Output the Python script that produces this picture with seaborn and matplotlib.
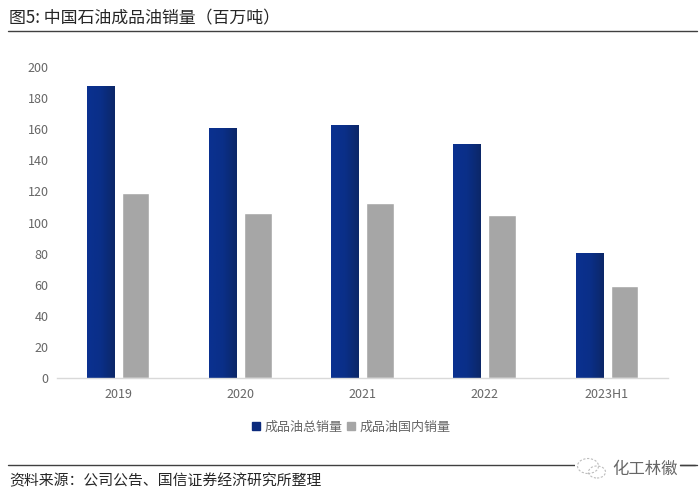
import matplotlib
matplotlib.use('Agg')
import matplotlib.pyplot as plt
from matplotlib.lines import Line2D
from matplotlib.patches import Ellipse
import numpy as np
import pandas as pd
import seaborn as sns

categories = ['2019', '2020', '2021', '2022', '2023H1']
total_sales = [187.5, 161, 163, 150.5, 80.5]
domestic_sales = [119, 106, 112.5, 105, 59]
y_ticks = [0, 20, 40, 60, 80, 100, 120, 140, 160, 180, 200]

NAME_TOTAL = '成品油总销量'
NAME_DOMESTIC = '成品油国内销量'
BLUE = '#0b2a7c'
GREY = '#a6a6a6'
TEXT = '#666666'

W, H = 700, 499


def make_df():
    df = pd.DataFrame({'year': categories, NAME_TOTAL: total_sales, NAME_DOMESTIC: domestic_sales})
    return df.melt(id_vars='year', var_name='series', value_name='sales')


def add_gradient(ax, patch):
    # blue bars in the source fade slightly darker to the right
    x0, y0 = patch.get_x(), patch.get_y()
    x1, y1 = x0 + patch.get_width(), y0 + patch.get_height()
    colors = matplotlib.colors.LinearSegmentedColormap.from_list('bar', ['#0a3190', '#0a2f88', '#0c2768'])
    im = ax.imshow(np.linspace(0, 1, 64).reshape(1, -1), extent=(x0, x1, y0, y1),
                   cmap=colors, aspect='auto', zorder=patch.get_zorder() + 0.1)
    im.set_clip_path(patch)


def add_watermark(fig):
    # white patch breaks the lower rule behind the wechat mark
    fig.add_artist(plt.Rectangle((575 / W, 1 - 480 / H), 105 / W, 22 / H, facecolor='white', edgecolor='none', zorder=3))
    for cx, cy, w, h in [(588, 466, 21, 15), (597, 472, 17, 12)]:
        fig.add_artist(Ellipse((cx / W, 1 - cy / H), w / W, h / H, facecolor='none', edgecolor='#bdbdbd',
                               lw=0.8, ls=(0, (2, 1.5)), zorder=4))
    fig.text(612 / W, 1 - 469 / H, '化工林徽', fontsize=11.8, color='#666666', va='center', ha='left', zorder=4)
    fig.add_artist(Line2D([680 / W, 695 / W], [1 - 465 / H, 1 - 465 / H], color='#404040', lw=1.0, zorder=4))


def main():
    sns.set_theme(style='white')
    plt.rcParams['font.family'] = ['Noto Sans CJK SC', 'DejaVu Sans']

    fig = plt.figure(figsize=(W / 100, H / 100), dpi=100, facecolor='white')
    ax = fig.add_axes([57 / W, 1 - 378 / H, (668 - 57) / W, (378 - 67) / H])

    sns.barplot(data=make_df(), x='year', y='sales', hue='series',
                palette=[BLUE, GREY], width=0.574, gap=0.21, saturation=1,
                legend=False, ax=ax)

    xlim = (-0.5, len(categories) - 0.5)
    for patch in list(ax.patches)[:len(categories)]:
        add_gradient(ax, patch)
    ax.set_xlim(xlim)
    ax.set_ylim(0, 200)

    ax.set_xlabel('')
    ax.set_ylabel('')
    ax.set_yticks(y_ticks)
    ax.tick_params(axis='both', length=0, labelsize=9, labelcolor=TEXT)
    ax.tick_params(axis='x', pad=7.5)
    ax.tick_params(axis='y', pad=6)
    sns.despine(ax=ax, left=True)
    ax.spines['bottom'].set_color('#d9d9d9')
    ax.spines['bottom'].set_linewidth(1.0)

    handles = [
        Line2D([], [], ls='', marker='s', ms=5.2, color=BLUE, label=NAME_TOTAL),
        Line2D([], [], ls='', marker='s', ms=5.2, color=GREY, label=NAME_DOMESTIC),
    ]
    fig.legend(handles=handles, loc='center', bbox_to_anchor=(351 / W, 1 - 427 / H), ncol=2, frameon=False,
               fontsize=9.4, labelcolor=TEXT, handlelength=0.7, handletextpad=0.3, columnspacing=0.3, borderpad=0)

    # title and source sit outside the axes, with full-width rules
    fig.text(9 / W, 1 - 18 / H, '图5: 中国石油成品油销量（百万吨）', fontsize=12.2, color='#262626', va='center')
    fig.text(9 / W, 1 - 481 / H, '资料来源：公司公告、国信证券经济研究所整理', fontsize=10.7, color='#262626', va='center')
    fig.add_artist(Line2D([8 / W, 697 / W], [1 - 31 / H, 1 - 31 / H], color='#404040', lw=1.0))
    fig.add_artist(Line2D([8 / W, 697 / W], [1 - 465 / H, 1 - 465 / H], color='#404040', lw=1.0))

    add_watermark(fig)

    fig.savefig('out.png', dpi=100)
    plt.close(fig)


if __name__ == '__main__':
    main()
